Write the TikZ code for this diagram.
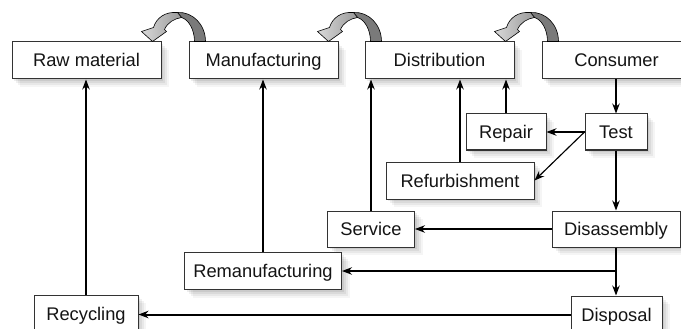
\documentclass[tikz,border=0pt]{standalone}
\usepackage{fontspec}
\setmainfont{Liberation Sans}
\usetikzlibrary{arrows.meta,shadows,calc}
\begin{document}
\begin{tikzpicture}[x=1pt,y=-1pt,
  softshadow/.style={
    drop shadow={shadow xshift=8pt,shadow yshift=-8pt,fill=black,opacity=0.04},
    drop shadow={shadow xshift=6pt,shadow yshift=-6pt,fill=black,opacity=0.05},
    drop shadow={shadow xshift=4pt,shadow yshift=-4pt,fill=black,opacity=0.06},
    drop shadow={shadow xshift=2pt,shadow yshift=-2pt,fill=black,opacity=0.07}},
  box/.style={draw=black!80, line width=1pt, fill=white, minimum height=37pt,
    inner sep=0pt, text height=17pt, text depth=4pt,
    font=\fontsize{18.3}{20}\selectfont, text=black!92, softshadow},
  link/.style={line width=1.15pt, -{Stealth[length=10pt,width=7.5pt]}},
  curl/.pic={
    \path[draw=black, line width=0.6pt, fill=black!52]
      (-11,-29) .. controls (4,-30) and (17,-17) .. (17,0) -- (6,0)
      .. controls (6,-12) and (0,-22) .. (-7,-24) -- cycle;
    \path[draw=black, line width=0.6pt, left color=black!15, right color=black!40]
      (-11,-29) .. controls (-23,-30) and (-32,-24) .. (-35,-14)
      -- (-47,-10) -- (-36,0) -- (-22,-10) -- (-24,-12)
      .. controls (-21,-19) and (-14,-23) .. (-7,-24) -- cycle;
  }
]
\useasboundingbox[fill=white] (0,0) rectangle (681,329);

\node[box, minimum width=149pt] (raw) at (86.5,60.5) {Raw material};
\node[box, minimum width=149pt] (manu) at (263.5,60.5) {Manufacturing};
\node[box, minimum width=149pt] (dist) at (439.5,60.5) {Distribution};
\node[box, minimum width=149pt] (cons) at (616.5,60.5) {Consumer};
\node[box, minimum width=62pt, minimum height=36pt] (test) at (616,132) {Test};
\node[box, minimum width=80pt, minimum height=36pt] (repair) at (506,132) {Repair};
\node[box, minimum width=148pt] (refurb) at (460,180.5) {Refurbishment};
\node[box, minimum width=87pt, minimum height=36pt] (service) at (371,229) {Service};
\node[box, minimum width=128pt, minimum height=36pt] (disas) at (616,229) {Disassembly};
\node[box, minimum width=157pt] (reman) at (263,271) {Remanufacturing};
\node[box, minimum width=104pt] (recyc) at (86,313.5) {Recycling};
\node[box, minimum width=91pt] (disp) at (616.5,314.5) {Disposal};

\pic at (manu.north west) {curl};
\pic at (dist.north west) {curl};
\pic at (cons.north west) {curl};

\draw[link] (recyc.north) -- (recyc.north |- raw.south);
\draw[link] (reman.north) -- (reman.north |- manu.south);
\draw[link] (service.north) -- (service.north |- dist.south);
\draw[link] (refurb.north) -- (refurb.north |- dist.south);
\draw[link] (repair.north) -- (repair.north |- dist.south);
\draw[link] (test.north |- cons.south) -- (test.north);
\draw[link] (test.west) -- (repair.east);
\draw[link] (test.west) -- (refurb.east);
\draw[link] (test.south) -- (disas.north);
\draw[link] (disas.west) -- (service.east);
\draw[link] (disas.south) -- (disas.south |- disp.north);
\coordinate (j) at (disas.south |- reman.east);
\draw[link] (j) -- (reman.east);
\draw[link, line width=2pt] (disp.west) -- (disp.west -| recyc.east);
\end{tikzpicture}
\end{document}
